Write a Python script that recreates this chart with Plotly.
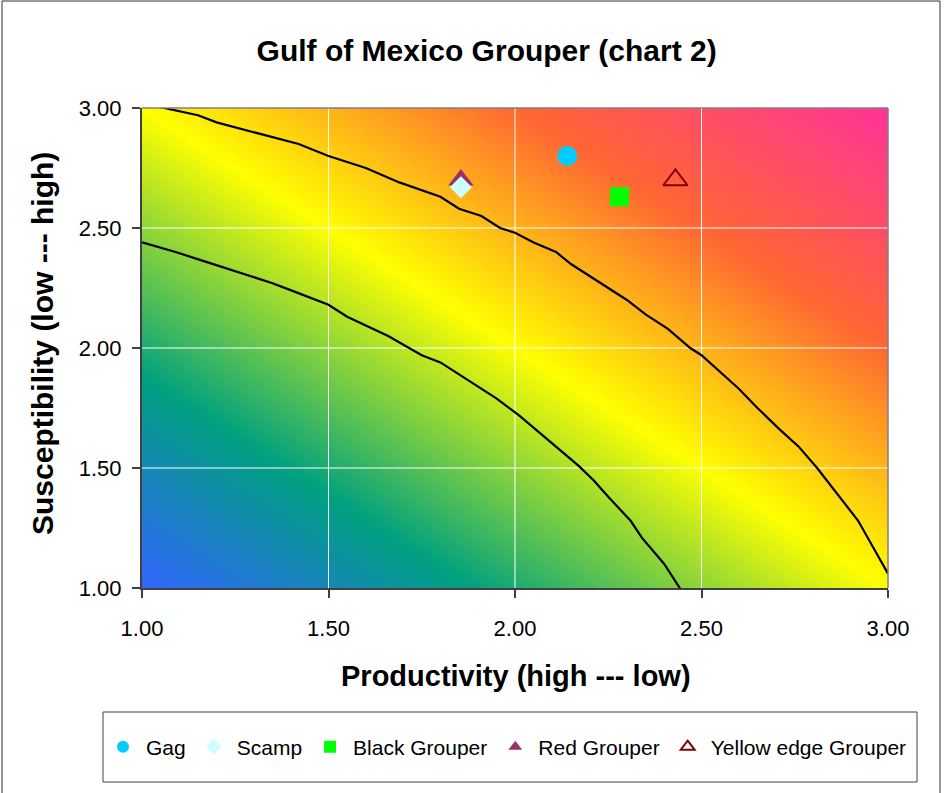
import plotly.graph_objects as go

# Axis ticks (both axes run 1.00 .. 3.00)
x_ticks = [1.0, 1.5, 2.0, 2.5, 3.0]
y_ticks = [1.0, 1.5, 2.0, 2.5, 3.0]

# Upper iso-vulnerability curve
upper_p = [1.00, 1.06, 1.15, 1.20, 1.30, 1.35, 1.42, 1.50, 1.60, 1.69, 1.80, 1.85,
           1.91, 1.96, 2.00, 2.05, 2.11, 2.15, 2.23, 2.30, 2.35, 2.41, 2.47, 2.50,
           2.60, 2.65, 2.71, 2.76, 2.81, 2.87, 2.92, 2.96, 3.00]
upper_s = [3.02, 3.00, 2.97, 2.94, 2.90, 2.88, 2.85, 2.80, 2.75, 2.69, 2.63, 2.58,
           2.55, 2.50, 2.48, 2.44, 2.40, 2.35, 2.27, 2.20, 2.14, 2.08, 2.00, 1.97,
           1.83, 1.75, 1.66, 1.59, 1.50, 1.38, 1.28, 1.17, 1.06]

# Lower iso-vulnerability curve
lower_p = [1.00, 1.09, 1.17, 1.25, 1.35, 1.40, 1.50, 1.55, 1.66, 1.75, 1.80, 1.90,
           1.95, 2.01, 2.10, 2.17, 2.21, 2.25, 2.31, 2.34, 2.40, 2.45]
lower_s = [2.44, 2.40, 2.36, 2.32, 2.27, 2.24, 2.18, 2.13, 2.05, 1.97, 1.94, 1.84,
           1.79, 1.72, 1.60, 1.51, 1.45, 1.38, 1.28, 1.21, 1.10, 0.98]

# Species scores
species = ["Gag", "Scamp", "Black Grouper", "Red Grouper", "Yellow edge Grouper"]
productivity = [2.14, 1.855, 2.28, 1.855, 2.43]
susceptibility = [2.80, 2.67, 2.63, 2.70, 2.70]

# Diagonal background gradient: corner values for (low,low) .. (high,high)
bg_corner_x = [1.0, 3.0]
bg_corner_y = [1.0, 3.0]
bg_corner_z = [[0.0, 0.5], [0.5, 1.0]]
bg_colors = [[0.0, "#3366FF"], [0.22, "#00A080"], [0.5, "#FFFF00"],
             [0.75, "#FF6633"], [1.0, "#FF3399"]]

marker_styles = {
    "Gag": dict(symbol="circle", color="#00CCFF", size=20),
    "Scamp": dict(symbol="diamond", color="#CCFFFF", size=17),
    "Black Grouper": dict(symbol="square", color="#00FF00", size=19),
    "Red Grouper": dict(symbol="triangle-up", color="#993366", size=22),
    "Yellow edge Grouper": dict(symbol="triangle-up-open", color="#800000", size=21,
                                line=dict(color="#800000", width=2)),
}
draw_order = ["Gag", "Black Grouper", "Red Grouper", "Yellow edge Grouper", "Scamp"]

FONT = "Liberation Sans, Arial, sans-serif"

fig = go.Figure()

fig.add_trace(go.Heatmap(
    x=bg_corner_x, y=bg_corner_y, z=bg_corner_z,
    colorscale=bg_colors, zmin=0, zmax=1, zsmooth="best",
    showscale=False, hoverinfo="skip",
))

# white gridlines on top of the gradient
gx, gy = [], []
for v in x_ticks[1:-1]:
    gx += [v, v, None]
    gy += [y_ticks[0], y_ticks[-1], None]
for v in y_ticks[1:-1]:
    gx += [x_ticks[0], x_ticks[-1], None]
    gy += [v, v, None]
fig.add_trace(go.Scatter(x=gx, y=gy, mode="lines",
                         line=dict(color="white", width=1),
                         showlegend=False, hoverinfo="skip"))

for cp, cs in [(upper_p, upper_s), (lower_p, lower_s)]:
    fig.add_trace(go.Scatter(x=cp, y=cs, mode="lines",
                             line=dict(color="black", width=2.2),
                             showlegend=False, hoverinfo="skip"))

for name in draw_order:
    i = species.index(name)
    st = dict(marker_styles[name])
    fig.add_trace(go.Scatter(
        x=[productivity[i]], y=[susceptibility[i]], mode="markers", name=name,
        marker=st, legendrank=i + 1,
    ))

axis_common = dict(
    range=[1, 3], ticks="outside", ticklen=8, tickcolor="#404040", tickwidth=1.5,
    showline=True, linecolor="#404040", linewidth=2, showgrid=False,
    zeroline=False, layer="above traces",
    tickfont=dict(family=FONT, size=22, color="black"),
)

fig.update_layout(
    width=952, height=793,
    margin=dict(l=142, r=64, t=108, b=205),
    paper_bgcolor="white", plot_bgcolor="white",
    xaxis=dict(axis_common, tickvals=x_ticks,
               ticktext=[f"{v:.2f}" for v in x_ticks], ticklabelstandoff=12),
    yaxis=dict(axis_common, tickvals=y_ticks,
               ticktext=[f"{v:.2f}" for v in y_ticks], ticklabelstandoff=6),
    title=dict(text="Gulf of Mexico Grouper (chart 2)", x=0.462, xref="paper",
               xanchor="center", y=1 - 50 / 793, yanchor="middle",
               font=dict(family=FONT, size=30, color="black", weight="bold")),
    legend=dict(orientation="h", x=(100 - 142) / 746, xanchor="left",
                y=(588 - 747) / 480, yanchor="middle", bgcolor="rgba(0,0,0,0)",
                itemsizing="constant", itemwidth=36,
                font=dict(family=FONT, size=21, color="black"), traceorder="normal"),
    showlegend=True,
)

# axis titles
fig.add_annotation(text="Productivity (high --- low)", xref="paper", yref="paper",
                   x=0.5015, y=(588 - 676) / 480, xanchor="center", yanchor="middle",
                   showarrow=False,
                   font=dict(family=FONT, size=29, color="black", weight="bold"))
fig.add_annotation(text="Susceptibility (low --- high)", xref="paper", yref="paper",
                   x=(42 - 142) / 746, y=(588 - 344) / 480, textangle=-90,
                   xanchor="center", yanchor="middle", showarrow=False,
                   font=dict(family=FONT, size=30, color="black", weight="bold"))

# grey plot-area edges (top and right)
fig.add_shape(type="line", xref="paper", yref="paper", x0=0, x1=1, y0=1, y1=1,
              line=dict(color="#808080", width=1.5), layer="above")
fig.add_shape(type="line", xref="paper", yref="paper", x0=1, x1=1, y0=0, y1=1,
              line=dict(color="#808080", width=1.5), layer="above")
# legend frame
fig.add_shape(type="rect", xref="paper", yref="paper",
              x0=(103 - 142) / 746, x1=(917 - 142) / 746,
              y0=(588 - 782) / 480, y1=(588 - 712) / 480,
              line=dict(color="#404040", width=1), layer="above")
# chart frame
fig.add_shape(type="rect", xref="paper", yref="paper",
              x0=(2 - 142) / 746, x1=(940 - 142) / 746,
              y0=(588 - 800) / 480, y1=(588 - 1) / 480,
              line=dict(color="#303030", width=1), layer="above")

fig.write_html("out.html")
